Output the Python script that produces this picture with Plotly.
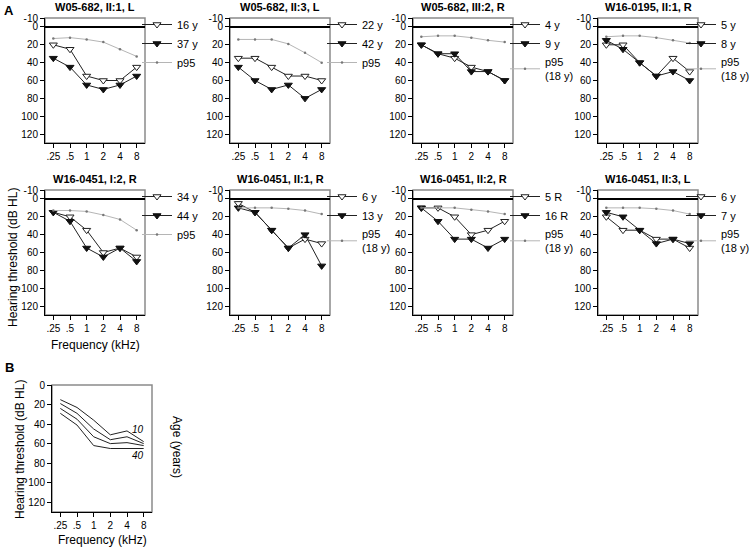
import plotly.graph_objects as go

W, H = 753, 548
freq = [".25", ".5", "1", "2", "4", "8"]

titles = ["W05-682, II:1, L", "W05-682, II:3, L", "W05-682, III:2, R", "W16-0195, II:1, R",
          "W16-0451, I:2, R", "W16-0451, II:1, R", "W16-0451, II:2, R", "W16-0451, II:3, L"]
open_names = ["16 y", "22 y", "4 y", "5 y", "34 y", "6 y", "5 R", "6 y"]
filled_names = ["37 y", "42 y", "9 y", "8 y", "44 y", "13 y", "16 R", "7 y"]
p95_names = ["p95", "p95", "p95<br>(18 y)", "p95<br>(18 y)", "p95", "p95<br>(18 y)", "p95<br>(18 y)", "p95<br>(18 y)"]

open_vals = [
    [20, 25, 55, 60, 60, 45],
    [35, 35, 45, 55, 55, 60],
    [20, 30, 35, 45, 50, 60],
    [20, 20, 40, 55, 35, 50],
    [15, 20, 35, 60, 55, 65],
    [5, 15, 35, 55, 45, 50],
    [10, 10, 20, 40, 35, 25],
    [20, 35, 35, 45, 45, 55],
]
filled_vals = [
    [35, 45, 65, 70, 65, 55],
    [45, 60, 70, 65, 80, 70],
    [20, 30, 30, 50, 50, 60],
    [15, 25, 40, 55, 50, 60],
    [15, 25, 55, 65, 55, 70],
    [10, 15, 35, 55, 40, 75],
    [10, 25, 45, 45, 55, 45],
    [15, 20, 35, 50, 45, 50],
]
p95_vals = [
    [13, 12, 14, 17, 25, 33],
    [14, 14, 14, 19, 29, 40],
    [11, 10, 10, 12, 15, 17],
    [11, 10, 10, 12, 15, 18],
    [13, 13, 14, 18, 23, 35],
    [10, 10, 10, 11, 13, 17],
    [10, 10, 10, 12, 14, 17],
    [10, 10, 10, 11, 13, 17],
]

age_labels = ["10", "20", "30", "40"]
age_curves = [
    [15, 23, 36, 51, 47, 58],
    [19, 29, 45, 56, 53, 60],
    [24, 35, 53, 60, 59, 62],
    [29, 41, 62, 65, 65, 65],
]
ytick_a = [-10, 0, 20, 40, 60, 80, 100, 120]
ytick_a_text = ["-10", "0", "20", "40", "60", "80", "100", "120"]
ytick_b = [0, 20, 40, 60, 80, 100, 120]

FONT = "Liberation Sans, Arial, sans-serif"

def fx(p):
    return p / W

def fy(p):
    return 1 - p / H

col_left = [45, 230, 413, 598]
legend_shift = [-8, -8, -8, -17]
row_top = [18, 190]
PW, PH = 100, 125

fig = go.Figure()
layout = dict(width=W, height=H, margin=dict(l=0, r=0, t=0, b=0, pad=0, autoexpand=False),
              paper_bgcolor="white", plot_bgcolor="white",
              font=dict(family=FONT, size=10, color="black"), showlegend=True)
shapes = []
annotations = []

def note(text, x, y, size=12, angle=0, xref="paper", yref="paper"):
    return dict(text=text, xref=xref, yref=yref, x=x, y=y, showarrow=False, textangle=angle,
                font=dict(size=size, family=FONT, color="black"),
                xanchor="center", yanchor="middle")

def axis_common():
    return dict(showline=True, linecolor="black", linewidth=1, ticks="outside",
                ticklen=4, tickcolor="black", showgrid=False, zeroline=False,
                tickfont=dict(size=10, family=FONT, color="black"), fixedrange=True,
                automargin=False)

for i in range(8):
    r, c = divmod(i, 4)
    n = i + 1
    xa = "xaxis" if n == 1 else f"xaxis{n}"
    ya = "yaxis" if n == 1 else f"yaxis{n}"
    xr = "x" if n == 1 else f"x{n}"
    yr = "y" if n == 1 else f"y{n}"
    lg = "legend" if n == 1 else f"legend{n}"
    L = col_left[c]
    T = row_top[r]
    layout[xa] = dict(axis_common(), domain=[fx(L), fx(L + PW)], anchor=yr,
                      type="category", range=[-0.5, 5.5])
    layout[ya] = dict(axis_common(), domain=[fy(T + PH), fy(T)], anchor=xr,
                      range=[130, -10], tickvals=ytick_a, ticktext=ytick_a_text)
    shapes.append(dict(type="rect", xref=f"{xr} domain", yref=f"{yr} domain",
                       x0=0, x1=1, y0=0, y1=1, line=dict(color="#8a8a8a", width=1.5),
                       layer="below"))
    shapes.append(dict(type="line", xref=f"{xr} domain", yref=yr, x0=0, x1=1, y0=0, y1=0,
                       line=dict(color="black", width=2)))
    fig.add_trace(go.Scatter(x=freq, y=open_vals[i], name=open_names[i], mode="lines+markers",
                             line=dict(color="#222", width=1),
                             marker=dict(symbol="triangle-down", size=7, color="white",
                                         line=dict(color="#222", width=1)),
                             xaxis=xr, yaxis=yr, legend=lg))
    fig.add_trace(go.Scatter(x=freq, y=filled_vals[i], name=filled_names[i], mode="lines+markers",
                             line=dict(color="#222", width=1),
                             marker=dict(symbol="triangle-down", size=7, color="#111",
                                         line=dict(color="#111", width=1)),
                             xaxis=xr, yaxis=yr, legend=lg))
    fig.add_trace(go.Scatter(x=freq, y=p95_vals[i], name=p95_names[i], mode="lines+markers",
                             line=dict(color="#b5b5b5", width=1),
                             marker=dict(symbol="circle", size=2.5, color="#777"),
                             xaxis=xr, yaxis=yr, legend=lg))
    layout[lg] = dict(x=fx(L + PW + legend_shift[c]), y=fy(T - 8), xanchor="left", yanchor="top",
                      bgcolor="rgba(0,0,0,0)", borderwidth=0,
                      font=dict(size=11, family=FONT, color="black"),
                      itemwidth=30, tracegroupgap=0)
    annotations.append(note(f"<b>{titles[i]}</b>", fx(L + PW / 2), fy(T - 11), size=11))

# Panel B
BL, BT, BH = 52, 385, 127
layout["xaxis9"] = dict(axis_common(), domain=[fx(BL), fx(BL + PW)], anchor="y9",
                        type="category", range=[-0.5, 5.5])
layout["yaxis9"] = dict(axis_common(), domain=[fy(BT + BH), fy(BT)], anchor="x9",
                        range=[130, 0], tickvals=ytick_b)
shapes.append(dict(type="rect", xref="x9 domain", yref="y9 domain", x0=0, x1=1, y0=0, y1=1,
                   line=dict(color="#8a8a8a", width=1.5), layer="below"))
for k, lab in enumerate(age_labels):
    fig.add_trace(go.Scatter(x=freq, y=age_curves[k], name=lab, mode="lines",
                             line=dict(color="#222", width=1), showlegend=False,
                             xaxis="x9", yaxis="y9"))

age_pos = [(4.65, 46), (5.65, 53), (5.65, 62), (4.65, 72)]
for lab, (ax_, ay_) in zip(age_labels, age_pos):
    annotations.append(note(f"<i>{lab}</i>", ax_, ay_, size=10, xref="x9", yref="y9"))
annotations.append(note("Age (years)", fx(177), fy(447), size=12, angle=90))

annotations += [
    note("<b>A</b>", fx(9), fy(10), size=13),
    note("<b>B</b>", fx(9), fy(367), size=13),
    note("Hearing threshold (dB HL)", fx(13), fy(258), size=12, angle=-90),
    note("Frequency (kHz)", fx(95), fy(345), size=12),
    note("Hearing threshold (dB HL)", fx(20), fy(450), size=12, angle=-90),
    note("Frequency (kHz)", fx(102), fy(540), size=12),
]

layout["shapes"] = shapes
layout["annotations"] = annotations
fig.update_layout(**layout)
fig.write_html("out.html", config={"displayModeBar": False},
               post_script="document.body.style.margin='0px';document.body.style.overflow='hidden';")
